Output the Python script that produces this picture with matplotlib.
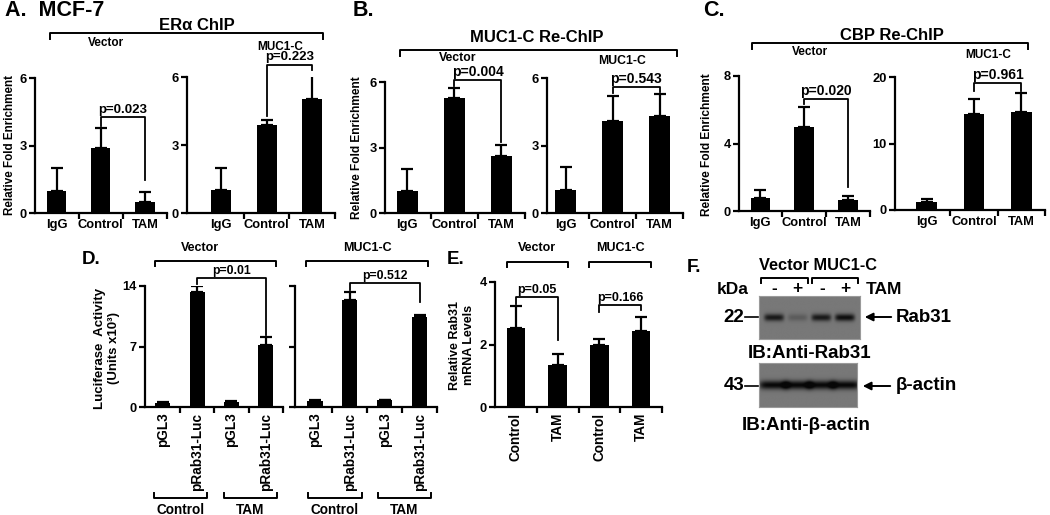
import numpy as np
import matplotlib
matplotlib.use('Agg')
import matplotlib.pyplot as plt

plt.rcParams['font.family'] = ['Liberation Sans', 'DejaVu Sans']
plt.rcParams['font.weight'] = 'bold'

# ---- data ----
chip_cats = ['IgG', 'Control', 'TAM']

era_vec = [1.0, 2.9, 0.5]
era_vec_err = [1.0, 0.9, 0.45]
era_muc = [1.0, 3.9, 5.05]
era_muc_err = [1.0, 0.2, 1.22]

muc_vec = [1.0, 5.27, 2.61]
muc_vec_err = [1.0, 0.45, 0.5]
muc_muc = [1.03, 4.1, 4.33]
muc_muc_err = [1.0, 1.1, 0.97]

cbp_vec = [0.75, 4.95, 0.65]
cbp_vec_err = [0.5, 1.2, 0.22]
cbp_muc = [1.25, 14.5, 14.7]
cbp_muc_err = [0.38, 2.2, 2.95]

luc_cats = ['pGL3', 'pRab31-Luc', 'pGL3', 'pRab31-Luc']
luc_vec = [0.5, 13.26, 0.62, 7.15]
luc_vec_err = [0.1, 0.78, 0.08, 0.9]
luc_muc = [0.75, 12.37, 0.8, 10.44]
luc_muc_err = [0.08, 0.97, 0.05, 0.26]

mrna_cats = ['Control', 'TAM', 'Control', 'TAM']
mrna = [2.54, 1.35, 1.97, 2.43]
mrna_err = [0.69, 0.34, 0.22, 0.45]

# p-value brackets: (bar i, bar j, bracket height, left leg end, right leg end, text)
p_era_vec = [(1, 2, 4.25, 3.85, 1.48, 'p=0.023')]
p_era_muc = [(1, 2, 6.55, 4.3, 6.3, 'p=0.223')]
p_muc_vec = [(1, 2, 6.08, 5.8, 3.27, 'p=0.004')]
p_muc_muc = [(1, 2, 5.6, 5.35, 5.4, 'p=0.543')]
p_cbp_vec = [(1, 2, 6.63, 6.35, 1.4, 'p=0.020')]
p_cbp_muc = [(1, 2, 19.1, 17.9, 17.9, 'p=0.961')]
p_luc_vec = [(1, 3, 14.9, 14.2, 8.3, 'p=0.01')]
p_luc_muc = [(1, 3, 14.3, 13.5, 12.2, 'p=0.512')]
p_mrna = [(0, 1, 3.52, 3.31, 2.13, 'p=0.05'), (2, 3, 3.25, 3.04, 3.09, 'p=0.166')]

# western blot band strength per lane (Vector -, +, MUC1-C -, +)
rab31_bands = [0.85, 0.25, 0.85, 0.95]
actin_bands = [1.0, 1.0, 1.0, 1.0]

W, H = 1050, 515
fig = plt.figure(figsize=(W / 100, H / 100), dpi=100)


def add_ax(l, t, r, b):
    return fig.add_axes([l / W, 1 - b / H, (r - l) / W, (b - t) / H])


def bar_panel(rect, centers, cats, vals, errs, ymax, yticks, pvals,
              rot=False, ylabels=True, fs=9.3, pfs=9.5):
    l, t, r, b = rect
    ax = add_ax(l, t, r, b)
    n = len(vals)
    x = np.arange(n)
    s = (centers[-1] - centers[0]) / (n - 1)
    ax.set_xlim((l - centers[0]) / s, (r - centers[0]) / s)
    ax.set_ylim(0, ymax)
    ax.bar(x, vals, width=0.44, color='black', zorder=2)
    ax.errorbar(x, vals, yerr=[np.zeros(n), errs], fmt='none', ecolor='black',
                elinewidth=1.6, capsize=4, capthick=1.6, zorder=1)
    for i, j, y, yl, yr, txt in pvals:
        ax.plot([i, i, j, j], [yl, y, y, yr], color='black', lw=1.3, clip_on=False)
        ax.annotate(txt, xy=((i + j) / 2, y), xytext=(0, 1), textcoords='offset points',
                    ha='center', va='bottom', fontsize=pfs, annotation_clip=False)
    for side in ['top', 'right']:
        ax.spines[side].set_visible(False)
    for side in ['left', 'bottom']:
        ax.spines[side].set_linewidth(1.6)
    ax.set_yticks(yticks)
    ax.tick_params(axis='y', direction='out', length=4, width=1.6, labelsize=fs, pad=2,
                   labelleft=ylabels)
    ax.set_xticks(x)
    if rot:
        ax.set_xticklabels(cats, rotation=90, fontsize=9.8)
    else:
        ax.set_xticklabels(cats, fontsize=fs)
    ax.tick_params(axis='x', which='major', length=0, pad=4)
    ax.set_xticks(x + 0.5, minor=True)
    ax.tick_params(axis='x', which='minor', direction='out', length=4, width=1.6)
    ax.patch.set_alpha(0)
    return ax


def blot(rect, bands, bw, bh, lane_px):
    l, t, r, b = rect
    ax = add_ax(l, t, r, b)
    s = (lane_px[-1] - lane_px[0]) / (len(bands) - 1)
    x0, x1 = (l - lane_px[0]) / s, (r - lane_px[0]) / s
    xs = np.linspace(x0, x1, 300)
    ys = np.linspace(-1, 1, 120)
    img = np.zeros((ys.size, xs.size))
    for i, a in enumerate(bands):
        img += a * np.exp(-((xs[None, :] - i) / bw) ** 6) * np.exp(-(ys[:, None] / bh) ** 2)
    img = np.clip(img, 0, 1)
    ax.imshow(0.47 - 0.44 * img, cmap='gray', vmin=0, vmax=1,
              extent=[x0, x1, -1, 1], aspect='auto', interpolation='bilinear')
    ax.set_xticks([])
    ax.set_yticks([])
    for sp in ax.spines.values():
        sp.set_color('#9a9a9a')
        sp.set_linewidth(0.8)
    return ax


# ---- A ----
bar_panel((35, 78, 167, 213), [58, 106, 152], chip_cats, era_vec, era_vec_err, 6, [0, 3, 6], p_era_vec)
bar_panel((187, 77, 335, 213), [222, 268, 316], chip_cats, era_muc, era_muc_err, 6, [0, 3, 6], p_era_muc)
# ---- B ----
bar_panel((385, 82, 525, 213), [408, 456, 505], chip_cats, muc_vec, muc_vec_err, 6, [0, 3, 6], p_muc_vec, pfs=10)
bar_panel((547, 78, 683, 213), [567, 617, 667], chip_cats, muc_muc, muc_muc_err, 6, [0, 3, 6], p_muc_muc, pfs=10)
# ---- C ----
bar_panel((739, 76, 870, 211), [762, 808, 857], chip_cats, cbp_vec, cbp_vec_err, 8, [0, 4, 8], p_cbp_vec, pfs=10)
bar_panel((895, 77, 1045, 210), [927, 973, 1023], chip_cats, cbp_muc, cbp_muc_err, 20, [0, 10, 20], p_cbp_muc, pfs=10)
# ---- D ----
bar_panel((145, 286, 283, 407), [163, 198, 233, 267], luc_cats, luc_vec, luc_vec_err, 14, [0, 7, 14],
          p_luc_vec, rot=True, fs=9.3, pfs=8.8)
bar_panel((295, 286, 437, 407), [315, 350, 387, 420], luc_cats, luc_muc, luc_muc_err, 14, [0, 7, 14],
          p_luc_muc, rot=True, ylabels=False, fs=9.3, pfs=8.8)
# ---- E ----
bar_panel((495, 282, 662, 407), [516, 558, 600, 642], mrna_cats, mrna, mrna_err, 4, [0, 2, 4],
          p_mrna, rot=True, fs=9.3, pfs=9)

# ---- F ----
lanes = [774, 797, 822, 845]
blot((759, 296, 860, 339), rab31_bands, 0.42, 0.17, lanes)
blot((759, 363, 857, 407), actin_bands, 0.62, 0.2, lanes)

# ---- overlay for titles, brackets and labels ----
ov = fig.add_axes([0, 0, 1, 1])
ov.set_xlim(0, W)
ov.set_ylim(H, 0)
ov.axis('off')
ov.patch.set_alpha(0)


def bracket(x0, x1, y, h):
    ov.plot([x0, x0, x1, x1], [y + h, y, y, y + h], color='black', lw=1.4)


def txt(x, y, s, size, ha='center', rot=0):
    ov.text(x, y, s, fontsize=size, ha=ha, va='center', rotation=rot)


txt(5, 11, 'A.  MCF-7', 15.5, ha='left')
txt(197, 26, 'ER\u03b1 ChIP', 12)
bracket(50, 323, 33, 6)
txt(106, 43, 'Vector', 8.5)
txt(280, 47, 'MUC1-C', 8.5)
txt(10, 145, 'Relative Fold Enrichment', 8.4, rot=90)

txt(353, 11, 'B.', 15.5, ha='left')
txt(537, 38, 'MUC1-C Re-ChIP', 12)
bracket(400, 677, 50, 6)
txt(458, 58, 'Vector', 8.8)
txt(622, 61, 'MUC1-C', 8.8)
txt(357, 148, 'Relative Fold Enrichment', 8.6, rot=90)

txt(703, 11, 'C.', 15.5, ha='left')
txt(892, 35, 'CBP Re-ChIP', 12)
bracket(752, 1028, 43, 6)
txt(810, 52, 'Vector', 8.5)
txt(988, 55, 'MUC1-C', 8.5)
txt(707, 145, 'Relative Fold Enrichment', 8.6, rot=90)

txt(82, 259, 'D.', 13.5, ha='left')
txt(200, 248, 'Vector', 9)
bracket(155, 276, 261, 5)
txt(367, 248, 'MUC1-C', 9)
bracket(306, 428, 261, 5)
txt(107, 348, 'Luciferase  Activity\n(Units x10\u00b3)', 9.5, rot=90)
for x0, x1, lab in [(154, 207, 'Control'), (224, 277, 'TAM'), (308, 362, 'Control'), (378, 431, 'TAM')]:
    bracket(x0, x1, 498, -5)
    txt((x0 + x1) / 2, 510, lab, 9.8)

txt(447, 259, 'E.', 13.5, ha='left')
txt(537, 248, 'Vector', 9)
bracket(507, 568, 262, 5)
txt(620, 248, 'MUC1-C', 9)
bracket(589, 651, 262, 5)
txt(462, 345, 'Relative Rab31\nmRNA Levels', 9, rot=90)

txt(687, 267, 'F.', 13.5, ha='left')
txt(759, 266, 'Vector MUC1-C', 11.8, ha='left')
bracket(761, 808, 278, 5)
bracket(812, 858, 278, 5)
txt(733, 290, 'kDa', 12.5)
for xl, s in zip(lanes, ['-', '+', '-', '+']):
    txt(xl, 289, s, 12.5)
txt(866, 290, 'TAM', 12.5, ha='left')
txt(744, 317, '22', 13.5, ha='right')
ov.plot([745, 758], [317, 317], color='black', lw=1.2)
txt(744, 386, '43', 13.5, ha='right')
ov.plot([745, 758], [386, 386], color='black', lw=1.2)
ov.annotate('', xy=(862, 317), xytext=(894, 317),
            arrowprops=dict(arrowstyle='-|>', color='black', lw=1.4, mutation_scale=12))
txt(896, 318, 'Rab31', 13.5, ha='left')
ov.annotate('', xy=(860, 386), xytext=(893, 386),
            arrowprops=dict(arrowstyle='-|>', color='black', lw=1.4, mutation_scale=12))
txt(896, 386, '\u03b2-actin', 13.5, ha='left')
txt(810, 353, 'IB:Anti-Rab31', 13.5)
txt(806, 425, 'IB:Anti-\u03b2-actin', 13.5)

fig.savefig('out.png', dpi=100)
